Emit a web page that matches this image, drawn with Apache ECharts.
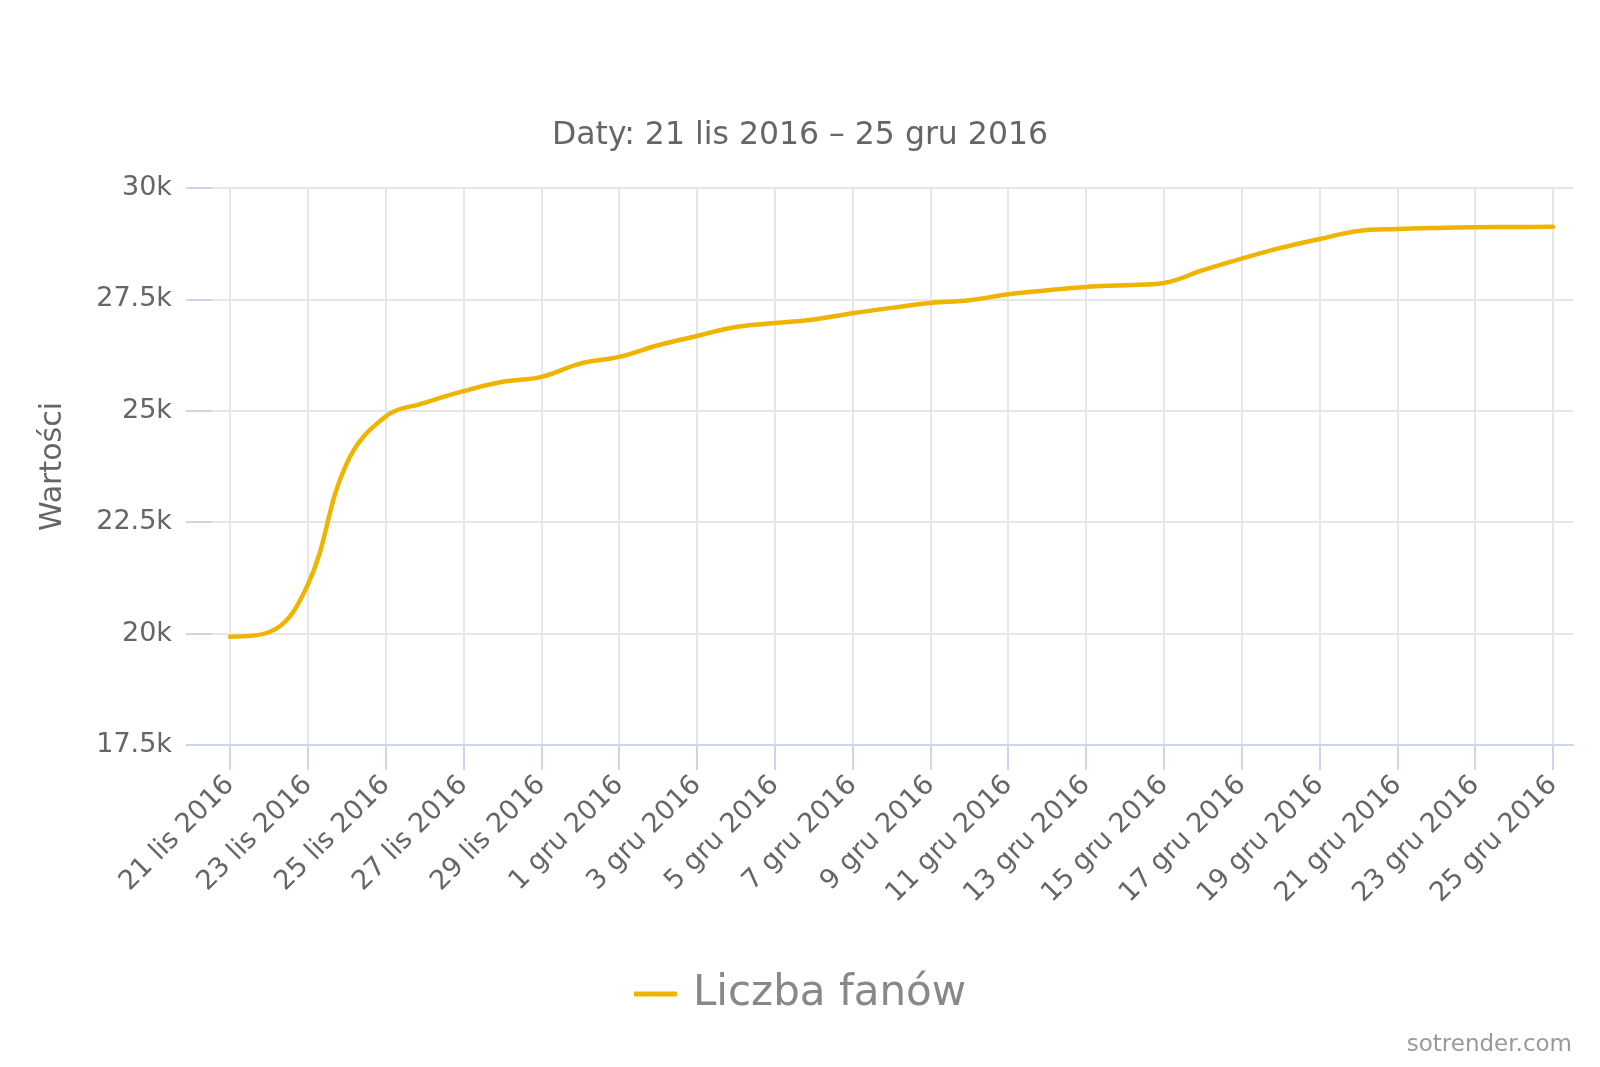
<!DOCTYPE html>
<html>
<head>
<meta charset="utf-8">
<script src="https://cdn.jsdelivr.net/npm/echarts@6/dist/echarts.min.js"></script>
<style>
  html, body { margin: 0; padding: 0; background: #fff; }
  #chart { width: 1600px; height: 1067px; }
</style>
</head>
<body>
<div id="chart"></div>
<script>
const categories = [
  '21 lis 2016','22 lis 2016','23 lis 2016','24 lis 2016','25 lis 2016','26 lis 2016','27 lis 2016',
  '28 lis 2016','29 lis 2016','30 lis 2016','1 gru 2016','2 gru 2016','3 gru 2016','4 gru 2016',
  '5 gru 2016','6 gru 2016','7 gru 2016','8 gru 2016','9 gru 2016','10 gru 2016','11 gru 2016',
  '12 gru 2016','13 gru 2016','14 gru 2016','15 gru 2016','16 gru 2016','17 gru 2016','18 gru 2016',
  '19 gru 2016','20 gru 2016','21 gru 2016','22 gru 2016','23 gru 2016','24 gru 2016','25 gru 2016'
];
const fans = [
  19930, 20030, 21100, 23820, 24870, 25180, 25440,
  25650, 25760, 26060, 26210, 26470, 26680, 26880,
  26970, 27050, 27190, 27310, 27420, 27480, 27615,
  27705, 27780, 27820, 27870, 28155, 28415, 28655,
  28855, 29035, 29080, 29105, 29120, 29125, 29130
];
const yTickLabels = ['17.5k', '20k', '22.5k', '25k', '27.5k', '30k'];
const seriesName = 'Liczba fanów';
const titleText = 'Daty: 21 lis 2016 – 25 gru 2016';
const yAxisName = 'Wartości';
const creditText = 'sotrender.com';

const FONT = 'DejaVu Sans';
const chart = echarts.init(document.getElementById('chart'), null, { renderer: 'canvas' });

const option = {
  animation: false,
  backgroundColor: '#ffffff',
  textStyle: { fontFamily: FONT },
  title: {
    text: titleText,
    left: 'center',
    top: 115,
    textStyle: { fontFamily: FONT, fontSize: 31.5, fontWeight: 'normal', color: '#666666' }
  },
  legend: {
    data: [seriesName],
    left: 'center',
    top: 968,
    icon: 'rect',
    itemWidth: 43,
    itemHeight: 5,
    textStyle: { fontFamily: FONT, fontSize: 42, color: '#888888', padding: [0, 0, 0, 11] }
  },
  graphic: [{
    type: 'text',
    right: 28,
    top: 1034,
    style: { text: creditText, fontFamily: FONT, fontSize: 23, fill: '#999999' }
  }],
  grid: [
    { left: 212, right: 27, top: 188, bottom: 322 },
    { left: 230, right: 47, top: 188, bottom: 322 }
  ],
  xAxis: [
    {
      gridIndex: 0, type: 'value', min: 0, max: 1,
      axisLine: { show: true, lineStyle: { color: '#ccd6eb', width: 2 } },
      axisTick: { show: false }, axisLabel: { show: false }, splitLine: { show: false }
    },
    {
      gridIndex: 1, type: 'category', data: categories, boundaryGap: false,
      axisLine: { show: false },
      axisTick: { show: true, interval: 1, length: 25, lineStyle: { color: '#ccd6eb', width: 2 } },
      axisLabel: { interval: 1, rotate: 45, margin: 36, fontSize: 27, color: '#666666', fontFamily: FONT },
      splitLine: { show: true, interval: 1, lineStyle: { color: '#e6e6e6', width: 2 } }
    }
  ],
  yAxis: [
    {
      gridIndex: 0, type: 'value', min: 17500, max: 30000, interval: 2500,
      name: yAxisName, nameLocation: 'middle', nameGap: 144, nameRotate: 90,
      nameTextStyle: { fontFamily: FONT, fontSize: 30, color: '#666666' },
      axisLine: { show: false },
      axisTick: { show: true, length: 26, lineStyle: { color: '#ccd6eb', width: 2 } },
      axisLabel: {
        margin: 40, fontSize: 27, color: '#666666', fontFamily: FONT,
        formatter: function (v, i) { return yTickLabels[i]; }
      },
      splitLine: { show: true, lineStyle: { color: '#e6e6e6', width: 2 } }
    },
    {
      gridIndex: 1, type: 'value', min: 17500, max: 30000, interval: 2500, show: false,
      splitLine: { show: false }
    }
  ],
  series: [{
    name: seriesName,
    type: 'line',
    xAxisIndex: 1,
    yAxisIndex: 1,
    data: fans,
    smooth: 0.4,
    symbol: 'none',
    showSymbol: false,
    lineStyle: { color: '#efb400', width: 4.5, cap: 'round', join: 'round' },
    itemStyle: { color: '#efb400' },
    z: 5
  }]
};
chart.setOption(option);
</script>
</body>
</html>
